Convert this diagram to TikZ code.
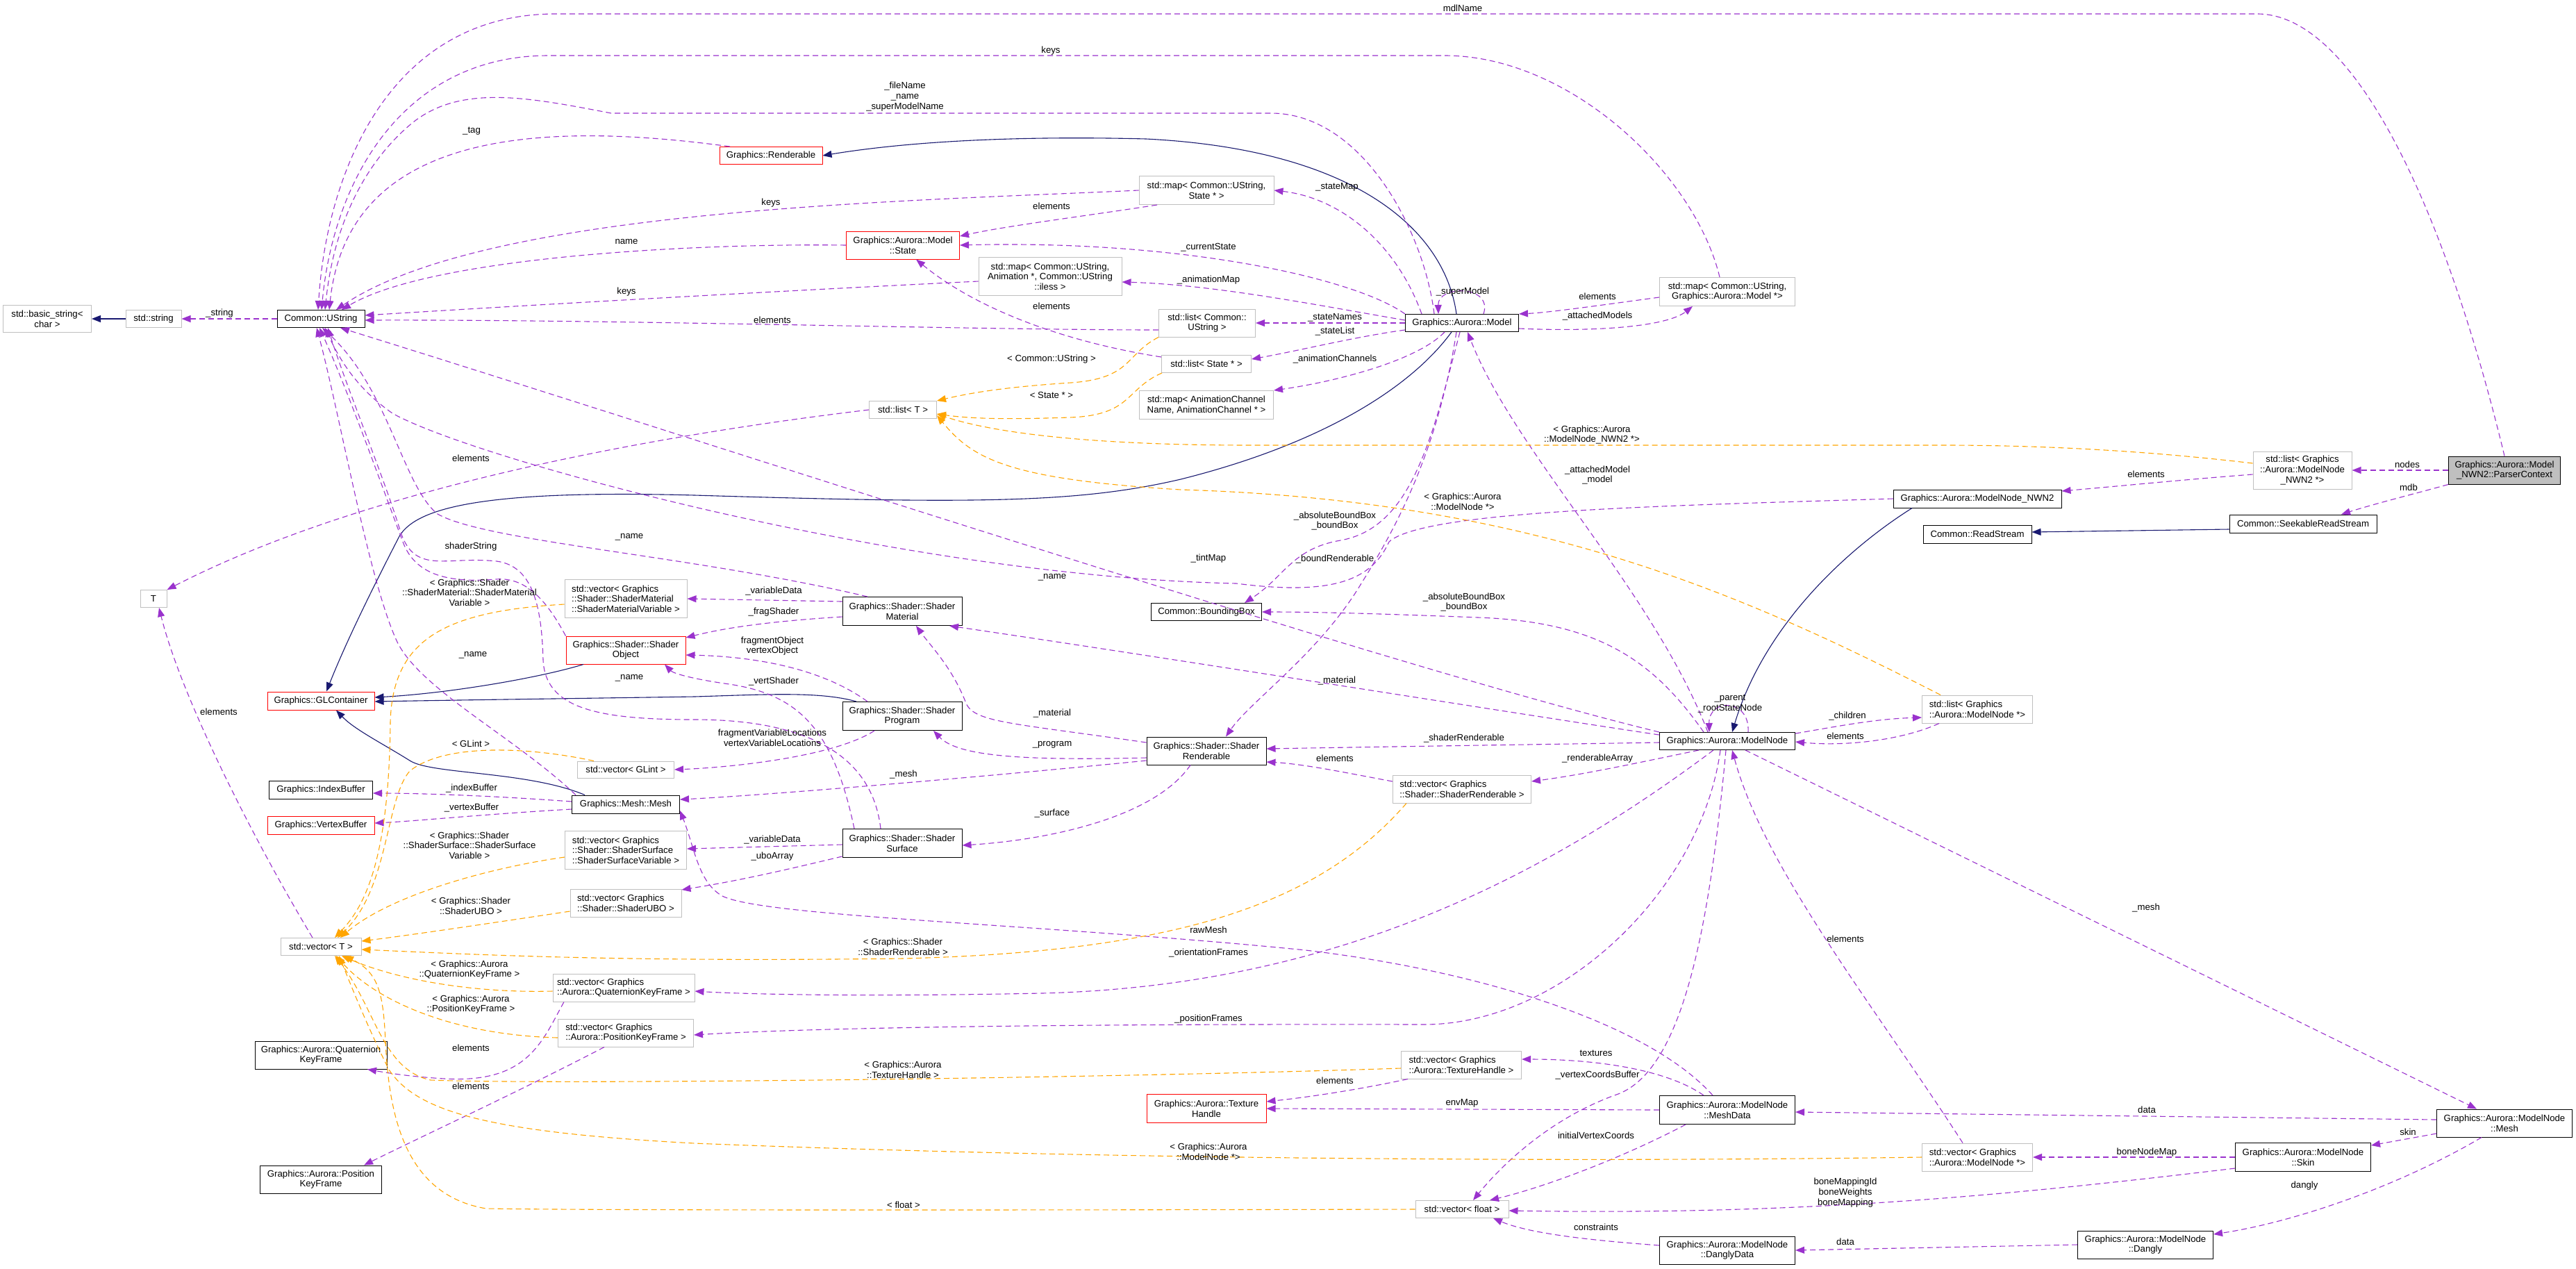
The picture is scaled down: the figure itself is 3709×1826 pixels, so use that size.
\documentclass[tikz,border=0pt]{standalone}
\usepackage{fontspec}
\setmainfont{Liberation Sans}
\usetikzlibrary{arrows.meta}
\definecolor{edgepurple}{HTML}{9A32CD}
\definecolor{edgenavy}{HTML}{191970}
\definecolor{edgeorange}{HTML}{FFA500}
\definecolor{boxgray}{HTML}{BFBFBF}

\begin{document}
\begin{tikzpicture}[x=1pt,y=-1pt,
  every node/.style={font=\fontsize{13.2}{14.6}\selectfont, inner sep=2pt, align=center},
  sz/.style 2 args={minimum width=#1pt, minimum height=#2pt},
  cls/.style={draw=black, line width=1pt, fill=white},
  tmpl/.style={draw=boxgray, line width=1pt, fill=white},
  redcls/.style={draw=red, line width=1pt, fill=white},
  focus/.style={draw=black, line width=1pt, fill=boxgray},
  lft/.style={align=left},
  lbl/.style={inner sep=0pt},
  use/.style={draw=edgepurple, line width=1.1pt, dash pattern=on 8pt off 5pt, -{Triangle[length=13pt,width=10pt]}},
  inh/.style={draw=edgenavy, line width=1.1pt, -{Triangle[length=13pt,width=10pt]}},
  inst/.style={draw=edgeorange, line width=1.1pt, dash pattern=on 8pt off 5pt, -{Triangle[length=13pt,width=10pt]}}]
\useasboundingbox (0,0) rectangle (3709,1826);
\fill[white] (0,0) rectangle (3709,1826);

\node[tmpl, sz={127}{39}] (bstr) at (68,459) {std::basic\_string<\\char >};
\node[tmpl, sz={80}{25}] (stdstr) at (221,459) {std::string};
\node[cls, sz={126}{25}] (ustr) at (462,459) {Common::UString};
\node[tmpl, sz={38}{25}] (tt) at (221,862) {T};
\node[redcls, sz={154}{26}] (glc) at (462,1009) {Graphics::GLContainer};
\node[cls, sz={149}{26}] (ibuf) at (462,1137) {Graphics::IndexBuffer};
\node[redcls, sz={154}{26}] (vbuf) at (462,1188) {Graphics::VertexBuffer};
\node[tmpl, sz={116}{25}] (vect) at (462,1363) {std::vector< T >};
\node[cls, sz={190}{40}] (qkf) at (462,1519) {Graphics::Aurora::Quaternion\\KeyFrame};
\node[cls, sz={175}{40}] (pkf) at (462,1698) {Graphics::Aurora::Position\\KeyFrame};
\node[redcls, sz={148}{25}] (rend) at (1110,224) {Graphics::Renderable};
\node[redcls, sz={163}{40}] (state) at (1300,353) {Graphics::Aurora::Model\\::State};
\node[tmpl, sz={206}{55}] (mapanim) at (1512,398) {std::map< Common::UString,\\Animation *, Common::UString\\::iless >};
\node[tmpl, sz={97}{25}] (listt) at (1300,590) {std::list< T >};
\node[tmpl, sz={194}{41}] (mapstate) at (1737,274) {std::map< Common::UString,\\State * >};
\node[tmpl, sz={139}{40}] (listustr) at (1738,465) {std::list< Common::\\UString >};
\node[tmpl, sz={129}{25}] (liststate) at (1737,524) {std::list< State * >};
\node[tmpl, sz={193}{41}] (mapchan) at (1737,583) {std::map< AnimationChannel\\Name, AnimationChannel * >};
\node[cls, sz={159}{25}] (bbox) at (1737,881) {Common::BoundingBox};
\node[tmpl, lft, sz={176}{55}] (vecsmv) at (901,862) {std::vector< Graphics\\::Shader::ShaderMaterial\\::ShaderMaterialVariable >};
\node[redcls, sz={172}{40}] (shobj) at (901,936) {Graphics::Shader::Shader\\Object};
\node[cls, sz={172}{41}] (smat) at (1299,880) {Graphics::Shader::Shader\\Material};
\node[cls, sz={172}{41}] (sprog) at (1299,1031) {Graphics::Shader::Shader\\Program};
\node[tmpl, sz={139}{24}] (vecglint) at (901,1108) {std::vector< GLint >};
\node[cls, sz={155}{26}] (mesh) at (901,1158) {Graphics::Mesh::Mesh};
\node[cls, sz={172}{40}] (srend) at (1737,1081) {Graphics::Shader::Shader\\Renderable};
\node[tmpl, lft, sz={175}{55}] (vecssv) at (901,1224) {std::vector< Graphics\\::Shader::ShaderSurface\\::ShaderSurfaceVariable >};
\node[cls, sz={172}{41}] (ssurf) at (1299,1214) {Graphics::Shader::Shader\\Surface};
\node[tmpl, lft, sz={160}{40}] (vecubo) at (901,1300) {std::vector< Graphics\\::Shader::ShaderUBO >};
\node[tmpl, lft, sz={204}{40}] (vecqkf) at (898,1422) {std::vector< Graphics\\::Aurora::QuaternionKeyFrame >};
\node[tmpl, lft, sz={195}{40}] (vecpkf) at (901,1487) {std::vector< Graphics\\::Aurora::PositionKeyFrame >};
\node[redcls, sz={172}{41}] (texh) at (1737,1596) {Graphics::Aurora::Texture\\Handle};
\node[tmpl, sz={134}{25}] (vecfloat) at (2105,1741) {std::vector< float >};
\node[cls, sz={163}{25}] (model) at (2105,465) {Graphics::Aurora::Model};
\node[tmpl, sz={195}{41}] (mapmodel) at (2487,420) {std::map< Common::UString,\\Graphics::Aurora::Model *>};
\node[tmpl, lft, sz={199}{40}] (vecsrend) at (2105,1136) {std::vector< Graphics\\::Shader::ShaderRenderable >};
\node[tmpl, lft, sz={173}{40}] (vectex) at (2104,1533) {std::vector< Graphics\\::Aurora::TextureHandle >};
\node[cls, sz={195}{25}] (modelnode) at (2487,1067) {Graphics::Aurora::ModelNode};
\node[cls, sz={195}{41}] (meshdata) at (2487,1598) {Graphics::Aurora::ModelNode\\::MeshData};
\node[cls, sz={195}{40}] (dangdata) at (2487,1800) {Graphics::Aurora::ModelNode\\::DanglyData};
\node[cls, sz={242}{26}] (nwn2) at (2847,718) {Graphics::Aurora::ModelNode\_NWN2};
\node[cls, sz={156}{26}] (rstream) at (2847,769) {Common::ReadStream};
\node[tmpl, lft, sz={159}{40}] (listmn) at (2847,1021) {std::list< Graphics\\::Aurora::ModelNode *>};
\node[tmpl, lft, sz={159}{40}] (vecmn) at (2847,1666) {std::vector< Graphics\\::Aurora::ModelNode *>};
\node[cls, sz={195}{40}] (dangly) at (3089,1792) {Graphics::Aurora::ModelNode\\::Dangly};
\node[tmpl, sz={142}{54}] (listnwn2) at (3315,677) {std::list< Graphics\\::Aurora::ModelNode\\\_NWN2 *>};
\node[cls, sz={212}{26}] (seek) at (3316,754) {Common::SeekableReadStream};
\node[cls, sz={195}{41}] (skin) at (3316,1666) {Graphics::Aurora::ModelNode\\::Skin};
\node[focus, sz={161}{40}] (pctx) at (3606,677) {Graphics::Aurora::Model\\\_NWN2::ParserContext};
\node[cls, sz={195}{40}] (mnmesh) at (3606,1617) {Graphics::Aurora::ModelNode\\::Mesh};

\draw[inh] (stdstr.west) -- (bstr.east);
\draw[inh] ([xshift=-8pt]model.north) .. controls (2080,330) and (1950,215) .. (1650,200) .. controls (1450,195) and (1300,205) .. (rend.east);
\draw[inh] ([xshift=-15pt]model.south) .. controls (2030,560) and (1900,640) .. (1700,690) .. controls (1550,725) and (1400,725) .. (1000,713) .. controls (700,705) and (600,730) .. (575,772) .. controls (540,840) and (500,920) .. ([xshift=8pt]glc.north);
\draw[inh] ([xshift=-61pt]shobj.south) .. controls (780,975) and (650,998) .. ([yshift=5pt]glc.east);
\draw[inh] ([xshift=-66pt]sprog.north) .. controls (1180,995) and (1100,1000) .. (1000,1003) .. controls (800,1006) and (650,1008) .. ([yshift=-1pt]glc.east);
\draw[inh] ([xshift=-59pt]mesh.north) .. controls (760,1110) and (620,1115) .. (590,1095) .. controls (550,1070) and (510,1050) .. ([xshift=22pt]glc.south);
\draw[inh] ([xshift=-94pt]nwn2.south) .. controls (2660,790) and (2540,900) .. ([xshift=7pt]modelnode.north);
\draw[inh] ([yshift=-8pt]seek.west) -- ([yshift=3pt]rstream.east);

\draw[use] (ustr.west) -- (stdstr.east);
\draw[use] (pctx.north) .. controls (3520,300) and (3390,20) .. (3250,20) -- (800,20) .. controls (560,20) and (470,250) .. ([xshift=-4pt]ustr.north);
\draw[use] ([xshift=-11pt]mapmodel.north) .. controls (2440,250) and (2260,80) .. (2080,80) -- (790,80) .. controls (580,80) and (480,260) .. ([xshift=1pt]ustr.north);
\draw[use] ([xshift=-40pt]model.north) .. controls (2050,330) and (1960,163) .. (1830,163) -- (880,163) .. controls (760,140) and (660,120) .. (590,180) .. controls (520,240) and (480,330) .. ([xshift=6pt]ustr.north);
\draw[use] ([xshift=-59pt]rend.north) .. controls (750,170) and (500,200) .. ([xshift=12pt]ustr.north);
\draw[use] (mapstate.west) .. controls (1300,290) and (700,300) .. ([xshift=22pt]ustr.north);
\draw[use] (state.west) .. controls (1000,350) and (620,370) .. ([xshift=30pt]ustr.north);
\draw[use] ([yshift=-7pt]mapanim.west) .. controls (1100,420) and (750,440) .. ([yshift=5pt]ustr.east);
\draw[use] ([yshift=-10pt]listustr.west) .. controls (1400,475) and (900,460) .. ([yshift=-2pt]ustr.east);
\draw[use] ([xshift=-58pt]model.north) .. controls (2010,350) and (1930,285) .. (mapstate.east);
\draw[use] (model.north west) .. controls (1950,400) and (1700,345) .. (state.east);
\draw[use] ([yshift=4pt]model.west) .. controls (1900,440) and (1750,410) .. ([yshift=-8pt]mapanim.east);
\draw[use] (model.west) -- (listustr.east);
\draw[use] ([yshift=-10pt]model.west) .. controls (1950,485) and (1870,505) .. ([yshift=7pt]liststate.east);
\draw[use] ([xshift=-25pt]model.south) .. controls (2040,520) and (1920,550) .. (mapchan.north east);
\draw[use] ([yshift=-8pt]mapmodel.west) .. controls (2300,440) and (2230,450) .. (model.north east);
\draw[use] ([yshift=-8pt]model.east) .. controls (2300,478) and (2400,470) .. ([xshift=-50pt]mapmodel.south);
\draw[use] ([xshift=31pt]model.north) .. controls (2150,410) and (2070,410) .. ([xshift=-34pt]model.north);
\draw[use] ([xshift=-71pt]mapstate.south) .. controls (1570,310) and (1450,325) .. ([yshift=13pt]state.east);
\draw[use] ([yshift=10pt]liststate.west) .. controls (1520,490) and (1400,440) .. ([xshift=19pt]state.south);
\draw[use] (listt.west) .. controls (1000,620) and (550,690) .. (tt.north east);
\draw[use] (nwn2.west) .. controls (2400,728) and (2050,735) .. (2000,780) .. controls (1975,835) and (1920,858) .. (1780,840) .. controls (1300,830) and (680,660) .. (565,595) .. controls (515,560) and (490,520) .. ([xshift=6pt]ustr.south);
\draw[use] (modelnode.north west) .. controls (2000,960) and (1000,630) .. ([xshift=28pt]ustr.south);
\draw[use] ([xshift=-50pt]smat.north) .. controls (1000,800) and (700,780) .. (630,740) .. controls (580,700) and (560,560) .. ([xshift=2pt]ustr.south);
\draw[use] (shobj.north west) .. controls (790,870) and (760,830) .. (714,834) .. controls (660,838) and (600,835) .. (580,780) .. controls (550,700) and (500,560) .. ([xshift=-2pt]ustr.south);
\draw[use] ([xshift=-31pt]ssurf.north) .. controls (1255,1080) and (1150,1036) .. (1000,1036) .. controls (860,1036) and (785,1020) .. (782,950) .. controls (780,880) and (770,815) .. (715,808) .. controls (640,800) and (595,830) .. (575,760) .. controls (550,680) and (500,560) .. ([xshift=10pt]ustr.south);
\draw[use] ([xshift=-72pt]mesh.north) .. controls (740,1060) and (600,990) .. (570,920) .. controls (530,830) and (490,600) .. ([xshift=-6pt]ustr.south);
\draw[use] ([yshift=14pt]smat.west) -- (vecsmv.east);
\draw[use] ([yshift=-8pt]smat.west) .. controls (1100,895) and (1040,905) .. ([yshift=18pt]shobj.east);
\draw[use] ([xshift=-50pt]sprog.north) .. controls (1180,960) and (1080,945) .. ([yshift=-7pt]shobj.east);
\draw[use] ([xshift=-69pt]ssurf.north) .. controls (1200,1050) and (1150,1000) .. (1050,985) .. controls (1000,978) and (970,970) .. ([xshift=56pt]shobj.south);
\draw[use] ([xshift=-40pt]sprog.south) .. controls (1200,1090) and (1050,1105) .. (vecglint.east);
\draw[use] ([yshift=12pt]srend.west) .. controls (1450,1040) and (1400,1040) .. (1390,1010) .. controls (1370,960) and (1340,930) .. ([xshift=20pt]smat.south);
\draw[use] ([yshift=-10pt]srend.west) .. controls (1480,1095) and (1380,1090) .. ([xshift=45pt]sprog.south);
\draw[use] ([yshift=-14pt]srend.west) .. controls (1400,1120) and (1100,1145) .. ([yshift=7pt]mesh.east);
\draw[use] ([xshift=-23pt]srend.south) .. controls (1660,1180) and (1500,1210) .. ([yshift=-3pt]ssurf.east);
\draw[use] ([yshift=4pt]mesh.west) .. controls (700,1145) and (600,1142) .. ([yshift=-5pt]ibuf.east);
\draw[use] ([yshift=-7pt]mesh.west) .. controls (700,1172) and (600,1182) .. ([yshift=3pt]vbuf.east);
\draw[use] ([xshift=-21pt]meshdata.north) .. controls (2380,1480) and (2150,1400) .. (1880,1368) .. controls (1500,1330) and (1100,1320) .. (1040,1290) .. controls (1005,1270) and (1000,1220) .. ([yshift=-9pt]mesh.east);
\draw[use] ([yshift=-2pt]ssurf.west) -- ([yshift=2pt]vecssv.east);
\draw[use] ([yshift=-19pt]ssurf.west) .. controls (1100,1260) and (1050,1270) .. ([yshift=19pt]vecubo.east);
\draw[use] ([xshift=-28pt]modelnode.north) .. controls (2380,850) and (2180,650) .. ([xshift=8pt]model.south);
\draw[use] ([xshift=30pt]modelnode.north) .. controls (2520,1005) and (2460,1005) .. ([xshift=-26pt]modelnode.north);
\draw[use] ([yshift=11pt]modelnode.east) .. controls (2650,1045) and (2700,1035) .. ([yshift=-12pt]listmn.west);
\draw[use] ([xshift=-55pt]listmn.south) .. controls (2740,1065) and (2660,1075) .. ([yshift=-1pt]modelnode.east);
\draw[use] ([yshift=-2pt]modelnode.west) .. controls (2200,1072) and (2000,1075) .. ([yshift=3pt]srend.east);
\draw[use] ([yshift=11pt]vecsrend.west) .. controls (1950,1115) and (1880,1100) .. ([yshift=-16pt]srend.east);
\draw[use] ([xshift=-41pt]modelnode.south) .. controls (2350,1100) and (2280,1115) .. ([yshift=11pt]vecsrend.east);
\draw[use] ([yshift=9pt]modelnode.west) .. controls (2200,1030) and (1700,950) .. ([xshift=68pt]smat.south);
\draw[use] ([xshift=-34pt]modelnode.north) .. controls (2380,950) and (2300,895) .. (2128,889) .. controls (2000,884) and (1900,881) .. (bbox.east);
\draw[use] ([xshift=-20pt]modelnode.south) .. controls (2200,1280) and (1900,1420) .. (1500,1430) .. controls (1200,1436) and (1050,1430) .. ([yshift=-5pt]vecqkf.east);
\draw[use] ([xshift=-10pt]modelnode.south) .. controls (2450,1280) and (2250,1475) .. (2050,1475) .. controls (1600,1474) and (1200,1478) .. ([yshift=-3pt]vecpkf.east);
\draw[use] ([xshift=-2pt]modelnode.south) .. controls (2460,1350) and (2420,1540) .. (2330,1575) .. controls (2230,1610) and (2160,1680) .. ([xshift=16pt]vecfloat.north);
\draw[use] ([xshift=-60pt]meshdata.south) .. controls (2330,1670) and (2220,1710) .. ([xshift=40pt]vecfloat.north);
\draw[use] ([xshift=26pt]modelnode.south) -- ([xshift=-40pt]mnmesh.north);
\draw[use] ([xshift=-21pt]vecmn.north) .. controls (2700,1450) and (2540,1250) .. ([xshift=7pt]modelnode.south);
\draw[use] ([xshift=-34pt]meshdata.north) .. controls (2400,1540) and (2300,1525) .. ([yshift=8pt]vectex.east);
\draw[use] (meshdata.west) -- (texh.east);
\draw[use] ([xshift=-77pt]vectex.south) .. controls (1950,1570) and (1880,1580) .. ([yshift=10pt]texh.east);
\draw[use] ([yshift=5pt]mnmesh.west) -- ([yshift=-3pt]meshdata.east);
\draw[use] ([yshift=-15pt]mnmesh.west) -- ([yshift=17pt]skin.east);
\draw[use] ([xshift=-33pt]mnmesh.south) .. controls (3450,1710) and (3300,1760) .. ([yshift=15pt]dangly.east);
\draw[use] (skin.west) -- (vecmn.east);
\draw[use] ([yshift=-16pt]skin.west) .. controls (2900,1720) and (2600,1750) .. ([yshift=-2pt]vecfloat.east);
\draw[use] ([yshift=7pt]dangdata.west) .. controls (2280,1785) and (2200,1775) .. ([xshift=45pt]vecfloat.south);
\draw[use] (dangly.west) -- (dangdata.east);
\draw[use] (pctx.west) -- (listnwn2.east);
\draw[use] (pctx.south west) .. controls (3480,710) and (3420,725) .. ([xshift=55pt]seek.north);
\draw[use] ([yshift=-6pt]listnwn2.west) .. controls (3150,690) and (3050,700) .. ([yshift=11pt]nwn2.east);
\draw[use] ([xshift=-3pt]model.south) .. controls (2060,640) and (2030,760) .. (1930,778) .. controls (1860,790) and (1850,830) .. ([xshift=55pt]bbox.north);
\draw[use] ([xshift=-8pt]model.south) .. controls (2070,650) and (2010,760) .. (1960,840) .. controls (1900,940) and (1800,1010) .. ([xshift=28pt]srend.north);
\draw[use] ([xshift=-12pt]vect.north) .. controls (360,1200) and (260,1000) .. ([xshift=8pt]tt.south);
\draw[use] ([xshift=-86pt]vecqkf.south) .. controls (780,1500) and (760,1560) .. (640,1553) .. controls (590,1550) and (560,1545) .. ([xshift=67pt]qkf.south);
\draw[use] ([xshift=-31pt]vecpkf.south) .. controls (750,1570) and (620,1630) .. ([xshift=62pt]pkf.north);

\draw[inst] ([yshift=-8pt]vecsmv.west) .. controls (640,880) and (565,920) .. (562,1040) .. controls (560,1250) and (520,1310) .. ([xshift=20pt]vect.north);
\draw[inst] ([xshift=-46pt]vecglint.north) .. controls (760,1075) and (640,1070) .. (590,1110) .. controls (555,1150) and (560,1280) .. ([xshift=24pt]vect.north);
\draw[inst] ([yshift=-10pt]vecssv.west) .. controls (700,1250) and (560,1290) .. ([xshift=28pt]vect.north);
\draw[inst] ([yshift=-12pt]vecubo.west) .. controls (700,1330) and (600,1345) .. ([yshift=8pt]vect.east);
\draw[inst] ([xshift=-80pt]vecsrend.south) .. controls (1900,1300) and (1700,1370) .. (1300,1380) .. controls (900,1385) and (700,1375) .. ([yshift=-4pt]vect.east);
\draw[inst] ([yshift=-5pt]vecqkf.west) .. controls (680,1430) and (570,1410) .. ([xshift=30pt]vect.south);
\draw[inst] ([yshift=-7pt]vecpkf.west) .. controls (650,1490) and (540,1440) .. ([xshift=22pt]vect.south);
\draw[inst] ([yshift=-5pt]vectex.west) .. controls (1600,1552) and (800,1562) .. (620,1555) .. controls (550,1540) and (540,1450) .. ([xshift=20pt]vect.south);
\draw[inst] (vecmn.west) .. controls (2300,1673) and (1600,1670) .. (1000,1646) .. controls (700,1630) and (600,1600) .. (560,1540) .. controls (530,1480) and (510,1430) .. ([xshift=26pt]vect.south);
\draw[inst] (vecfloat.west) .. controls (1600,1742) and (900,1743) .. (700,1740) .. controls (580,1720) and (560,1600) .. (555,1500) .. controls (552,1430) and (545,1400) .. ([xshift=34pt]vect.south);
\draw[inst] ([xshift=-70pt]listustr.south) .. controls (1620,510) and (1630,545) .. (1542,551) .. controls (1450,557) and (1400,565) .. (listt.north east);
\draw[inst] ([xshift=-64pt]liststate.south) .. controls (1620,560) and (1630,598) .. (1540,601) .. controls (1450,604) and (1400,603) .. ([yshift=-6pt]listt.east);
\draw[inst] ([yshift=10pt]listnwn2.west) .. controls (3100,650) and (2950,641) .. (2800,641) -- (1800,641) .. controls (1550,641) and (1420,620) .. ([yshift=-6pt]listt.east);
\draw[inst] ([xshift=-53pt]listmn.north) .. controls (2500,850) and (2200,720) .. (1700,705) .. controls (1450,690) and (1400,660) .. ([yshift=-8pt]listt.east);

\node[lbl] (lstring) at (316,451) {\_string};
\node[lbl] (lmdl) at (2106,12) {mdlName};
\node[lbl] (lkeysa) at (1513,73) {keys};
\node[lbl] (lfile) at (1303,139) {\_fileName\\\_name\\\_superModelName};
\node[lbl] (ltag) at (679,189) {\_tag};
\node[lbl] (lkeysb) at (1110,292) {keys};
\node[lbl] (lelema) at (1514,297) {elements};
\node[lbl] (lnamea) at (902,348) {name};
\node[lbl] (lcur) at (1740,356) {\_currentState};
\node[lbl] (lstmap) at (1925,269) {\_stateMap};
\node[lbl] (lanim) at (1740,403) {\_animationMap};
\node[lbl] (lkeysc) at (902,420) {keys};
\node[lbl] (lelemb) at (1514,441) {elements};
\node[lbl] (lelemc) at (1112,461) {elements};
\node[lbl] (lstnames) at (1922,457) {\_stateNames};
\node[lbl] (lstlist) at (1922,477) {\_stateList};
\node[lbl] (lcommon) at (1514,517) {< Common::UString >};
\node[lbl] (lchan) at (1922,517) {\_animationChannels};
\node[lbl] (lstate) at (1514,569) {< State * >};
\node[lbl] (lsuper) at (2106,420) {\_superModel};
\node[lbl] (lelemd) at (2300,427) {elements};
\node[lbl] (lattm) at (2300,455) {\_attachedModels};
\node[lbl] (lnwn2t) at (2292,626) {< Graphics::Aurora\\::ModelNode\_NWN2 *>};
\node[lbl] (lattmod) at (2300,684) {\_attachedModel\\\_model};
\node[lbl] (lmnt) at (2106,722) {< Graphics::Aurora\\::ModelNode *>};
\node[lbl] (lnodes) at (3466,669) {nodes};
\node[lbl] (lmdb) at (3468,702) {mdb};
\node[lbl] (lineleme) at (3090,683) {elements};
\node[lbl] (lelemt) at (678,660) {elements};
\node[lbl] (lshstr) at (678,787) {shaderString};
\node[lbl] (lnameb) at (906,773) {\_name};
\node[lbl] (lsmvt) at (676,853) {< Graphics::Shader\\::ShaderMaterial::ShaderMaterial\\Variable >};
\node[lbl] (lnamec) at (681,943) {\_name};
\node[lbl] (lnamed) at (906,976) {\_name};
\node[lbl] (lelemtt) at (315,1025) {elements};
\node[lbl] (lglint) at (678,1071) {< GLint >};
\node[lbl] (libuf) at (679,1135) {\_indexBuffer};
\node[lbl] (lvbuf) at (679,1163) {\_vertexBuffer};
\node[lbl] (lbba) at (1922,750) {\_absoluteBoundBox\\\_boundBox};
\node[lbl] (ltint) at (1740,804) {\_tintMap};
\node[lbl] (lbrend) at (1922,805) {\_boundRenderable};
\node[lbl] (lnamee) at (1515,831) {\_name};
\node[lbl] (lvdataa) at (1114,851) {\_variableData};
\node[lbl] (lfrag) at (1114,881) {\_fragShader};
\node[lbl] (lfvo) at (1112,930) {fragmentObject\\vertexObject};
\node[lbl] (lvert) at (1114,981) {\_vertShader};
\node[lbl] (lmata) at (1925,980) {\_material};
\node[lbl] (lmatb) at (1515,1027) {\_material};
\node[lbl] (lfvl) at (1112,1062) {fragmentVariableLocations\\vertexVariableLocations};
\node[lbl] (lprog) at (1515,1072) {\_program};
\node[lbl] (lelemf) at (1922,1092) {elements};
\node[lbl] (lmesha) at (1301,1115) {\_mesh};
\node[lbl] (lsurf) at (1515,1171) {\_surface};
\node[lbl] (lbbb) at (2108,867) {\_absoluteBoundBox\\\_boundBox};
\node[lbl] (lparent) at (2491,1013) {\_parent\\\_rootStateNode};
\node[lbl] (lchild) at (2660,1031) {\_children};
\node[lbl] (lelemg) at (2657,1060) {elements};
\node[lbl] (lsrend) at (2108,1063) {\_shaderRenderable};
\node[lbl] (lrarr) at (2300,1092) {\_renderableArray};
\node[lbl] (lssvt) at (676,1217) {< Graphics::Shader\\::ShaderSurface::ShaderSurface\\Variable >};
\node[lbl] (lvdatab) at (1112,1209) {\_variableData};
\node[lbl] (luboa) at (1112,1233) {\_uboArray};
\node[lbl] (lubot) at (678,1304) {< Graphics::Shader\\::ShaderUBO >};
\node[lbl] (lraw) at (1740,1339) {rawMesh};
\node[lbl] (lsrendt) at (1300,1363) {< Graphics::Shader\\::ShaderRenderable >};
\node[lbl] (lorient) at (1740,1372) {\_orientationFrames};
\node[lbl] (lelemh) at (2657,1352) {elements};
\node[lbl] (lmeshb) at (3090,1307) {\_mesh};
\node[lbl] (lqkft) at (676,1396) {< Graphics::Aurora\\::QuaternionKeyFrame >};
\node[lbl] (lpkft) at (678,1446) {< Graphics::Aurora\\::PositionKeyFrame >};
\node[lbl] (lpos) at (1740,1467) {\_positionFrames};
\node[lbl] (lelemi) at (678,1509) {elements};
\node[lbl] (ltex) at (2298,1516) {textures};
\node[lbl] (ltht) at (1300,1540) {< Graphics::Aurora\\::TextureHandle >};
\node[lbl] (lvcb) at (2300,1548) {\_vertexCoordsBuffer};
\node[lbl] (lelemj) at (1922,1556) {elements};
\node[lbl] (lelemk) at (678,1564) {elements};
\node[lbl] (lenv) at (2105,1588) {envMap};
\node[lbl] (ldataa) at (3091,1598) {data};
\node[lbl] (lskin) at (3467,1630) {skin};
\node[lbl] (livc) at (2298,1635) {initialVertexCoords};
\node[lbl] (lmntb) at (1740,1658) {< Graphics::Aurora\\::ModelNode *>};
\node[lbl] (lbnm) at (3091,1659) {boneNodeMap};
\node[lbl] (ldangly) at (3318,1707) {dangly};
\node[lbl] (lbone) at (2657,1717) {boneMappingId\\boneWeights\\boneMapping};
\node[lbl] (lfloat) at (1301,1735) {< float >};
\node[lbl] (lconst) at (2298,1767) {constraints};
\node[lbl] (ldatab) at (2657,1788) {data};
\end{tikzpicture}
\end{document}
